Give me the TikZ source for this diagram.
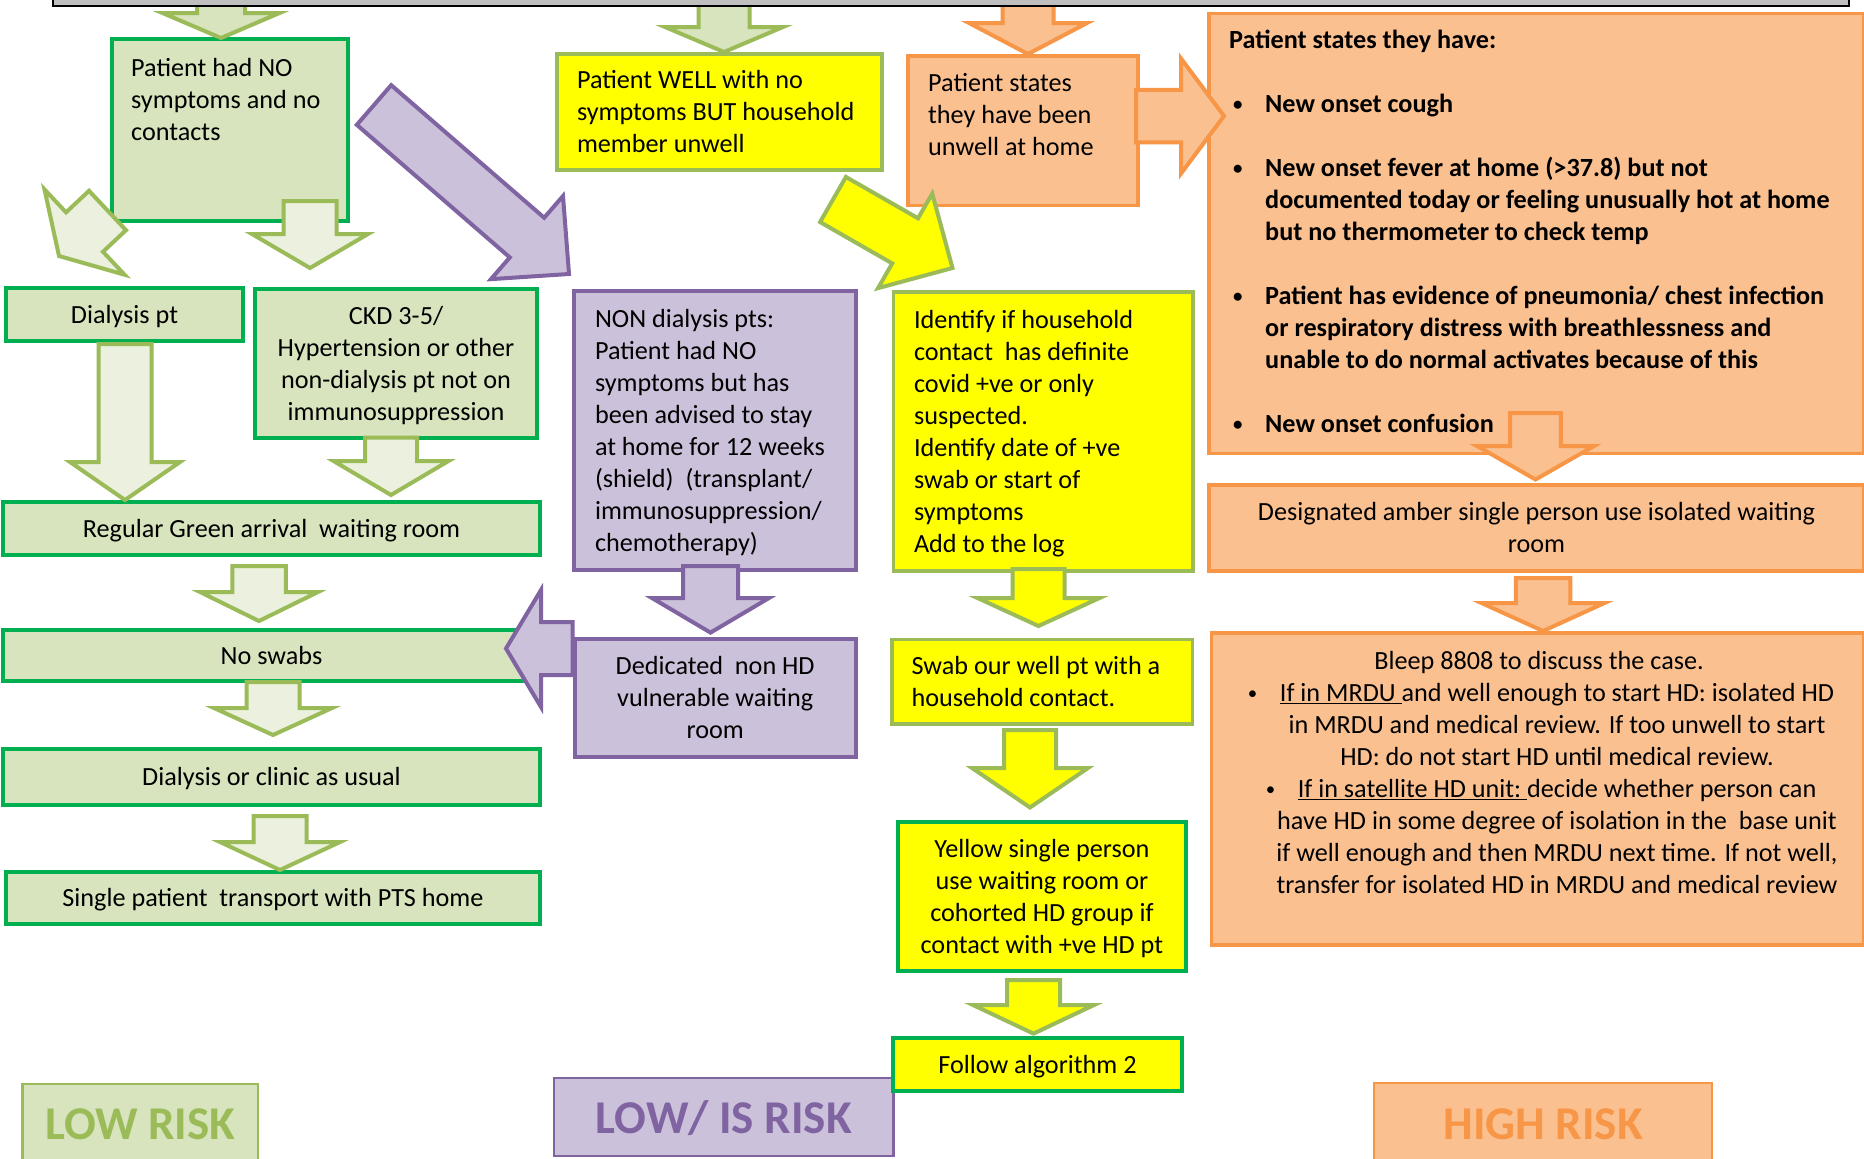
\documentclass[tikz,border=0pt]{standalone}
\usepackage{fontspec}
\usepackage{graphicx}
\setmainfont{Carlito}
\usetikzlibrary{calc}
\definecolor{gfill}{HTML}{D7E4BD}
\definecolor{gline}{HTML}{00B050}
\definecolor{olive}{HTML}{9BBB59}
\definecolor{garrow}{HTML}{EBF1DE}
\definecolor{ylw}{HTML}{FFFF00}
\definecolor{ofill}{HTML}{FAC090}
\definecolor{oline}{HTML}{F79646}
\definecolor{pfill}{HTML}{CCC1DA}
\definecolor{pline}{HTML}{8064A2}
\definecolor{barfill}{HTML}{BFBFBF}
\newcommand\dn[1]{\raisebox{0pt}[\dimexpr\height+5pt\relax][\depth]{#1}}
\newcommand\tl[1]{\begin{tabular}{@{}l@{}}#1\end{tabular}}
\newcommand\tc[1]{\dn{\begin{tabular}{@{}c@{}}#1\end{tabular}}}
\newcommand\lbox[3]{\dn{\makebox[#1pt][l]{\hspace*{#2pt}\tl{#3}}}}
\newcommand\bul{\makebox[32pt][l]{\raisebox{2.5pt}{\scalebox{0.72}{\textbullet}}}}
% block arrow: style, tail, tip, shaft width, head width, head length
\newcommand\barrow[6]{%
  \pgfmathsetmacro\arsw{#4/2}\pgfmathsetmacro\arhw{#5/2}%
  \coordinate (bh) at ($(#3)!#6pt!(#2)$);
  \draw[#1] ($(#2)!\arsw pt!90:(#3)$) -- ($(bh)!\arsw pt!90:(#3)$) -- ($(bh)!\arhw pt!90:(#3)$) -- (#3)
    -- ($(bh)!\arhw pt!-90:(#3)$) -- ($(bh)!\arsw pt!-90:(#3)$) -- ($(#2)!\arsw pt!-90:(#3)$) -- cycle;}
\tikzset{
  bx/.style={anchor=north west, inner sep=0pt, outer sep=0pt, font=\fontsize{26.2}{32}\selectfont, text=black},
  sz/.style 2 args={minimum width=#1, minimum height=#2},
  gbox/.style={bx, draw=gline, fill=gfill, line width=4},
  ybox/.style={bx, draw=olive, fill=ylw, line width=3.5},
  ygbox/.style={bx, draw=gline, fill=ylw, line width=4},
  pbox/.style={bx, draw=pline, fill=pfill, line width=4},
  obox/.style={bx, draw=oline, fill=ofill, line width=3.5},
  txt/.style={anchor=north west, inner sep=0pt, font=\fontsize{26.2}{32}\selectfont},
  risk/.style={bx, font=\fontsize{47}{56}\selectfont\bfseries, text height=32, text depth=0, line width=2.5},
  gar/.style={draw=olive, fill=garrow, line width=4},
  gar2/.style={draw=olive, fill=gfill, line width=4},
  par/.style={draw=pline, fill=pfill, line width=4},
  yar/.style={draw=olive, fill=ylw, line width=4},
  oar/.style={draw=oline, fill=ofill, line width=4},
}
\begin{document}
\begin{tikzpicture}[x=1pt,y=-1pt]
\useasboundingbox (0,0) rectangle (1864,1159);
\clip (0,0) rectangle (1864,1159);
\fill[white] (0,0) rectangle (1864,1159);

% ---------- green column ----------
\node[gbox, sz={236.5}{182}] (nosym) at (111.5,39) {};
\node[gbox, sz={237}{53.5}] (dial) at (6,287.5) {\tc{Dialysis pt}};
\node[gbox, sz={282}{149}] (ckd) at (255,288.6) {\tc{CKD 3-5/\\Hypertension or other\\non-dialysis pt not on\\immunosuppression}};
\node[gbox, sz={537}{53}] (reg) at (3,502) {\tc{Regular Green arrival\ \ waiting room}};
\node[gbox, sz={537}{51}] (noswab) at (3,630) {\tc{No swabs}};
\node[gbox, sz={537}{56}] (dcu) at (3,749) {\tc{Dialysis or clinic as usual}};
\node[gbox, sz={534}{52}] (single) at (6,872) {\tc{Single patient\ \ transport with PTS home}};
\node[risk, draw=olive, fill=gfill, text=olive, sz={235.5}{78}] (low) at (22.5,1084) {LOW RISK};

% ---------- purple column ----------
\node[pbox, sz={282}{278.5}] (non) at (574,291) {\lbox{282}{21}{NON dialysis pts:\\Patient had NO\\symptoms but has\\been advised to stay\\at home for 12 weeks\\(shield)\ \ (transplant/\\immunosuppression/\\chemotherapy)}};
\node[pbox, sz={281}{117.7}] (ded) at (574.7,639) {\tc{Dedicated\ \ non HD\\vulnerable waiting\\room}};
\node[risk, draw=pline, fill=pfill, text=pline, sz={339.4}{78}] (lowis) at (554,1078) {LOW/ IS RISK};

% ---------- yellow column ----------
\node[ybox, sz={325}{116}] (well) at (557,54) {\lbox{325}{20}{Patient WELL with no\\symptoms BUT household\\member unwell}};
\node[ybox, sz={299.5}{279}] (ident) at (893.5,292) {\lbox{299.5}{20.5}{Identify if household\\contact\ \ has definite\\covid +ve or only\\suspected.\\Identify date of +ve\\swab or start of\\symptoms\\Add to the log}};
\node[ybox, sz={300.6}{84.5}] (swab) at (892,639.5) {\lbox{300.6}{19.6}{Swab our well pt with a\\household contact.}};
\node[ygbox, sz={288.2}{149}] (ysingle) at (897.8,821.6) {\tc{Yellow single person\\use waiting room or\\cohorted HD group if\\contact with +ve HD pt}};
\node[ygbox, sz={289}{53.5}] (follow) at (893,1037.5) {\tc{Follow algorithm 2}};

% ---------- orange column ----------
\node[obox, sz={230}{149.5}] (pst) at (908,56) {};
\node[obox, sz={655}{440}] (big) at (1209,13.4) {};
\node[obox, sz={655}{86}] (desig) at (1209,485) {\tc{Designated amber single person use isolated waiting\\room}};
\node[obox, sz={652.5}{312}] (bleep) at (1211.5,633) {};
\node[risk, draw=oline, fill=ofill, text=oline, sz={338}{80}] (high) at (1374,1083) {HIGH RISK};

% ---------- block arrows ----------
\coordinate (a0t) at (221,2);      \coordinate (a0h) at (221,38);
\coordinate (a1t) at (107.5,210.5); \coordinate (a1h) at (59,256);
\coordinate (a2t) at (310,201);    \coordinate (a2h) at (310,268);
\coordinate (a3t) at (125,344);    \coordinate (a3h) at (125,500);
\coordinate (a4t) at (391,437.5);  \coordinate (a4h) at (391,495);
\coordinate (a5t) at (259,566);    \coordinate (a5h) at (259,621);
\coordinate (a6t) at (273,682);    \coordinate (a6h) at (273,735);
\coordinate (a7t) at (280,816);    \coordinate (a7h) at (280,870);
\coordinate (awt) at (724,2);      \coordinate (awh) at (724,52);
\coordinate (p1t) at (374,105);    \coordinate (p1h) at (569,274);
\coordinate (p2t) at (710.5,566);  \coordinate (p2h) at (710.5,632.6);
\coordinate (p3t) at (572.5,648.5); \coordinate (p3h) at (506,648.5);
\coordinate (y1t) at (833,199.5);  \coordinate (y1h) at (952.5,268);
\coordinate (y2t) at (1038.5,569); \coordinate (y2h) at (1038.5,626);
\coordinate (y3t) at (1030,730);   \coordinate (y3h) at (1030,807.5);
\coordinate (y4t) at (1033.5,980); \coordinate (y4h) at (1033.5,1033.6);
\coordinate (o1t) at (1028,2);     \coordinate (o1h) at (1028,54);
\coordinate (o2t) at (1136,116);   \coordinate (o2h) at (1224,116);
\coordinate (o3t) at (1535.5,413); \coordinate (o3h) at (1535.5,479.5);
\coordinate (o4t) at (1543,578);   \coordinate (o4h) at (1543,631);

\barrow{gar2}{a0t}{a0h}{48}{117}{25}
\barrow{gar}{a1t}{a1h}{54}{117}{35}
\barrow{gar}{a2t}{a2h}{53}{116}{34}
\barrow{gar}{a3t}{a3h}{53}{110}{38}
\barrow{gar}{a4t}{a4h}{52}{115}{34}
\barrow{gar}{a5t}{a5h}{53.5}{118}{29}
\barrow{gar}{a6t}{a6h}{53}{118}{27}
\barrow{gar}{a7t}{a7h}{53}{120}{28}
\barrow{gar2}{awt}{awh}{51}{118}{25}
\barrow{par}{p1t}{p1h}{52.5}{110}{55.6}
\barrow{par}{p2t}{p2h}{55}{117}{34.6}
\barrow{par}{p3t}{p3h}{53}{117}{35}
\barrow{yar}{y1t}{y1h}{52}{109}{54.6}
\barrow{yar}{y2t}{y2h}{52}{122}{28}
\barrow{yar}{y3t}{y3h}{52}{116}{39.5}
\barrow{yar}{y4t}{y4h}{53}{121}{28.6}
\barrow{oar}{o1t}{o1h}{51}{118}{31}
\barrow{oar}{o2t}{o2h}{52.5}{115}{43}
\barrow{oar}{o3t}{o3h}{50.6}{117}{33.5}
\barrow{oar}{o4t}{o4h}{54.5}{123}{28}

% ---------- top-aligned texts ----------
\node[txt] (nosymtxt) at (131,54) {\tl{Patient had NO\\symptoms and no\\contacts}};
\node[txt] (psttxt) at (928,69) {\tl{Patient states\\they have been\\unwell at home}};
\node[txt, font=\fontsize{26.2}{32}\selectfont\bfseries] (bigtxt) at (1229,26) {\tl{Patient states they have:\\[32pt]
\hspace*{4pt}\bul New onset cough\\[32pt]
\hspace*{4pt}\bul New onset fever at home (>37.8) but not\\
\hspace*{36pt}documented today or feeling unusually hot at home\\
\hspace*{36pt}but no thermometer to check temp\\[32pt]
\hspace*{4pt}\bul Patient has evidence of pneumonia/ chest infection\\
\hspace*{36pt}or respiratory distress with breathlessness and\\
\hspace*{36pt}unable to do normal activates because of this\\[32pt]
\hspace*{4pt}\bul New onset confusion}};
\node[txt, anchor=north] (bleeptxt) at (1557,647) {\begin{tabular}{@{}c@{}}\hspace*{-36pt}Bleep 8808 to discuss the case.\\
\llap{\bul}\underline{If in MRDU\ }and well enough to start HD: isolated HD\\
in MRDU and medical review. If too unwell to start\\
HD: do not start HD until medical review.\\
\llap{\bul}\underline{If in satellite HD unit:\ }decide whether person can\\
have HD in some degree of isolation in the\ \ base unit\\
if well enough and then MRDU next time. If not well,\\
transfer for isolated HD in MRDU and medical review\end{tabular}};

% ---------- top bar ----------
\draw[fill=barfill, draw=black, line width=2.5] (53,-20) rectangle (1849,6);
\end{tikzpicture}
\end{document}
